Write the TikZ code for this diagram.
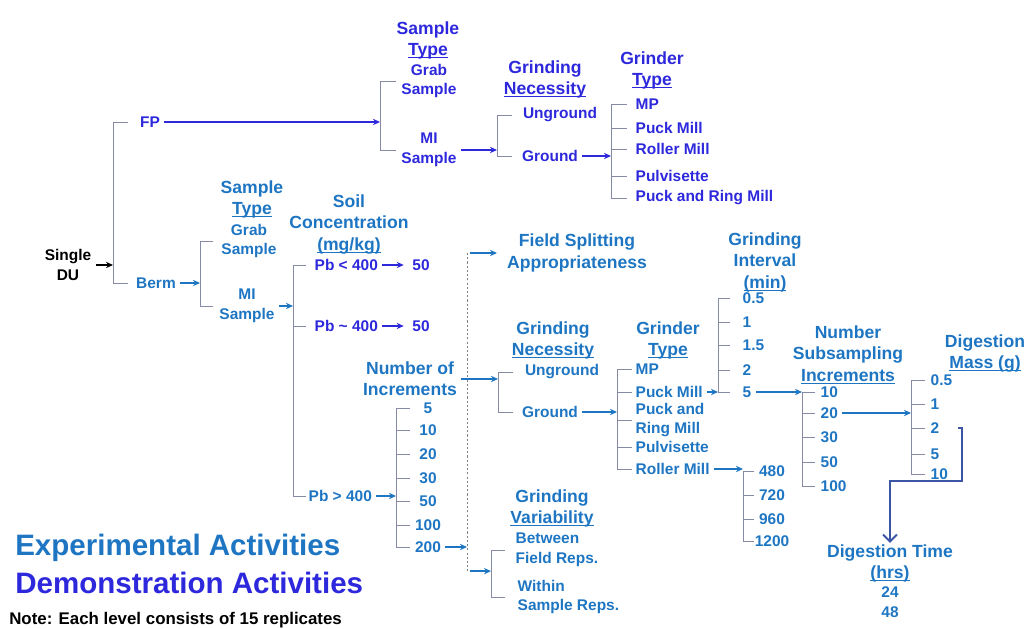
\documentclass[tikz,border=0pt]{standalone}
\usepackage{fontspec}
\setmainfont{Liberation Sans}
\usetikzlibrary{arrows.meta,calc}

\definecolor{demoblue}{RGB}{45,40,220}
\definecolor{exptblue}{RGB}{30,118,195}
\definecolor{brgray}{RGB}{135,138,165}
\definecolor{navyline}{RGB}{60,85,165}

\newcommand{\ulin}[1]{\underline{\smash{#1}}}

\tikzset{
  txt/.style={font=\bfseries\fontsize{11}{14}\selectfont, inner sep=1pt, align=center},
  hd/.style={font=\bfseries\fontsize{12.5}{15}\selectfont, inner sep=1pt, align=center},
  val/.style={txt, anchor=west},
  demo/.style={text=demoblue},
  expt/.style={text=exptblue},
  br/.style={draw=brgray, line width=0.7pt},
  arr/.style={-{Stealth[length=5pt,width=4.5pt]}, line width=1.4pt, shorten <=2pt},
  dotline/.style={draw=gray, line width=0.6pt, dash pattern=on 1.5pt off 1.5pt},
}

\begin{document}
\begin{tikzpicture}[x=0.025cm,y=-0.025cm]
\useasboundingbox (0,0) rectangle (1028,629);

% root
\node[txt] (du) at (68,265) {Single\\DU};
\node[txt,demo] (fp) at (150,122) {FP};
\node[txt,expt] (berm) at (156,283) {Berm};
\coordinate (sp0) at (113,0);
\draw[arr,black] (du.east) -- (du.east -| sp0);
\draw[br] (sp0 |- fp) ++(15,0) -- (sp0 |- fp) -- (sp0 |- berm) -- ++(15,0);

% FP: sample type
\node[hd,demo] (stA) at (428,40) {Sample\\\ulin{Type}};
\node[txt,demo] (grabA) at (429,81) {Grab\\Sample};
\node[txt,demo] (miA) at (429,150) {MI\\Sample};
\coordinate (sp1) at (380,0);
\draw[arr,demoblue,line width=1.8pt] (fp.east) -- (fp.east -| sp1);
\draw[br] (sp1 |- grabA) ++(16,0) -- (sp1 |- grabA) -- (sp1 |- miA) -- ++(16,0);

% FP: grinding necessity
\node[hd,demo] (gnA) at (545,79) {Grinding\\\ulin{Necessity}};
\node[txt,demo] (ungA) at (560,115) {Unground};
\node[txt,demo] (grA) at (550,156) {Ground};
\coordinate (sp2) at (497,0);
\draw[arr,demoblue] (miA.east) -- (miA.east -| sp2);
\draw[br] (sp2 |- ungA) ++(15,0) -- (sp2 |- ungA) -- (sp2 |- grA) -- ++(15,0);

% FP: grinder type
\node[hd,demo] (gtA) at (652,70) {Grinder\\\ulin{Type}};
\foreach \n/\y/\t in {mpA/104/MP, puckA/128/Puck Mill, rollA/149/Roller Mill,
    pulvA/176/Pulvisette, prA/198/Puck and Ring Mill}
  \node[val,demo] (\n) at (634,\y) {\t};
\coordinate (sp3) at (611,0);
\draw[arr,demoblue] (grA.east) -- (grA.east -| sp3);
\draw[br] (sp3 |- mpA) -- (sp3 |- prA);
\foreach \n in {mpA,puckA,rollA,pulvA,prA}
  \draw[br] (sp3 |- \n) -- ++(16,0);

% Berm: sample type
\node[hd,expt] (stB) at (252,199) {Sample\\\ulin{Type}};
\node[txt,expt] (grabB) at (249,241) {Grab\\Sample};
\node[txt,expt] (miB) at (247,306) {MI\\Sample};
\coordinate (sp4) at (200,0);
\draw[arr,exptblue] (berm.east) -- (berm.east -| sp4);
\draw[br] (sp4 |- grabB) ++(13,0) -- (sp4 |- grabB) -- (sp4 |- miB) -- ++(13,0);

% Berm: soil concentration
\node[hd,expt] (sc) at (349,224) {Soil\\Concentration\\\ulin{(mg/kg)}};
\node[val,demo] (pblt) at (313,265) {Pb < 400};
\node[val,demo] (pbsim) at (313,326) {Pb \textasciitilde{} 400};
\node[val,expt] (pbgt) at (307,496) {Pb > 400};
\node[txt,demo] (fiftyA) at (421,265) {50};
\node[txt,demo] (fiftyB) at (421,326) {50};
\coordinate (sp5) at (293,0);
\draw[arr,exptblue] (miB.east) -- (miB.east -| sp5);
\draw[br] (sp5 |- pblt) -- (sp5 |- pbgt);
\foreach \n in {pblt,pbsim,pbgt}
  \draw[br] (sp5 |- \n) -- ++(13,0);
\draw[arr,demoblue,shorten >=5pt] (pblt.east) -- (fiftyA.west);
\draw[arr,demoblue,shorten >=5pt] (pbsim.east) -- (fiftyB.west);

% number of increments
\node[hd,expt] (noi) at (410,379) {Number of\\Increments};
\foreach \v/\y in {5/408,10/430,20/454,30/478,50/501,100/525,200/547}
  \node[txt,expt] (inc\v) at (428,\y) {\v};
\coordinate (sp6) at (396,0);
\draw[arr,exptblue] (pbgt.east) -- (pbgt.east -| sp6);
\draw[br] (sp6 |- inc5) -- (sp6 |- inc200);
\foreach \v in {5,10,20,30,50,100,200}
  \draw[br] (sp6 |- inc\v) -- ++(14,0);

% field splitting / grinding variability
\coordinate (dl) at (467,0);
\node[hd,expt] (fsa) at (577,253) {Field Splitting\\Appropriateness};
\node[hd,expt] (gvar) at (552,508) {Grinding\\\ulin{Variability}};
\node[val,expt,align=left] (betw) at (514,550) {Between\\Field Reps.};
\node[val,expt,align=left] (within) at (516,597) {Within\\Sample Reps.};
\coordinate (sp7) at (491,0);
\coordinate (gvin) at ($(sp7 |- betw)!0.45!(sp7 |- within)$);
\draw[br] (sp7 |- betw) ++(14,0) -- (sp7 |- betw) -- (sp7 |- within) -- ++(14,0);
\draw[dotline] (dl |- fsa) -- (dl |- gvin);
\draw[arr,exptblue,shorten >=6pt] (dl |- fsa) -- (fsa.west);
\draw[arr,exptblue] (dl |- gvin) -- (gvin);
\draw[arr,exptblue] (inc200.east) -- (inc200.east -| dl);

% Berm: grinding necessity
\node[hd,expt] (gnB) at (553,340) {Grinding\\\ulin{Necessity}};
\node[txt,expt] (ungB) at (562,372) {Unground};
\node[txt,expt] (grB) at (550,412) {Ground};
\coordinate (sp8) at (498,0);
\draw[arr,exptblue] (noi.east) -- (noi.east -| sp8);
\draw[br] (sp8 |- ungB) ++(15,0) -- (sp8 |- ungB) -- (sp8 |- grB) -- ++(15,0);

% Berm: grinder type
\node[hd,expt] (gtB) at (668,340) {Grinder\\\ulin{Type}};
\node[val,expt] (mpB) at (634,369) {MP};
\node[val,expt] (puckB) at (634,392) {Puck Mill};
\node[val,expt,align=left] (prB) at (634,420) {Puck and\\Ring Mill};
\node[val,expt] (pulvB) at (634,447) {Pulvisette};
\node[val,expt] (rollB) at (634,469) {Roller Mill};
\coordinate (sp9) at (617,0);
\draw[arr,exptblue] (grB.east) -- (grB.east -| sp9);
\draw[br] (sp9 |- mpB) -- (sp9 |- rollB);
\foreach \n in {mpB,puckB,prB,pulvB,rollB}
  \draw[br] (sp9 |- \n) -- ++(15,0);

% grinding interval
\node[hd,expt] (gi) at (765,262) {Grinding\\Interval\\\ulin{(min)}};
\foreach \n/\y/\t in {gi1/298/0.5, gi2/322/1, gi3/345/1.5, gi4/370/2, gi5/392/5}
  \node[val,expt] (\n) at (741,\y) {\t};
\coordinate (sp10) at (718,0);
\draw[arr,exptblue] (puckB.east) -- (puckB.east -| sp10);
\draw[br] (sp10 |- gi1) -- (sp10 |- gi5);
\foreach \n in {gi1,gi2,gi3,gi4,gi5}
  \draw[br] (sp10 |- \n) -- ++(12,0);

% roller mill interval
\foreach \v/\y in {480/471,720/495,960/519,1200/541}
  \node[txt,expt] (rm\v) at (772,\y) {\v};
\coordinate (sp11) at (743,0);
\draw[arr,exptblue] (rollB.east) -- (rollB.east -| sp11);
\draw[br] (sp11 |- rm480) -- (sp11 |- rm1200);
\foreach \v in {480,720,960,1200}
  \draw[br] (sp11 |- rm\v) -- ++(11,0);

% subsampling increments
\node[hd,expt] (nsi) at (848,355) {Number\\Subsampling\\\ulin{Increments}};
\foreach \v/\y in {10/392,20/413,30/437,50/462,100/486}
  \node[val,expt] (ss\v) at (819,\y) {\v};
\coordinate (sp12) at (802,0);
\draw[arr,exptblue] (gi5.east) -- (gi5.east -| sp12);
\draw[br] (sp12 |- ss10) -- (sp12 |- ss100);
\foreach \v in {10,20,30,50,100}
  \draw[br] (sp12 |- ss\v) -- ++(13,0);

% digestion mass
\node[hd,expt] (dm) at (985,353) {Digestion\\\ulin{Mass (g)}};
\foreach \n/\y/\t in {dm1/380/0.5, dm2/404/1, dm3/428/2, dm4/454/5, dm5/474/10}
  \node[val,expt] (\n) at (929,\y) {\t};
\coordinate (sp13) at (911,0);
\draw[arr,exptblue] (ss20.east) -- (ss20.east -| sp13);
\draw[br] (sp13 |- dm1) -- (sp13 |- dm5);
\foreach \n in {dm1,dm2,dm3,dm4,dm5}
  \draw[br] (sp13 |- \n) -- ++(14,0);

% digestion time
\node[hd,expt] (dthd) at (890,563) {Digestion Time\\\ulin{(hrs)}};
\node[txt,expt] (dtv) at (890,602) {24\\48};
\coordinate (jn) at (962,481);
\draw[draw=navyline, line width=1.4pt, shorten <=12pt, -{Straight Barb[length=5pt,width=10pt]}]
  (dm3.east) -| (jn) -- (jn -| dthd) -- (dthd.north);

% legend
\node[anchor=west, inner sep=0pt, font=\bfseries\fontsize{21}{24}\selectfont, text=exptblue] (legx) at (15,548) {Experimental Activities};
\node[anchor=west, inner sep=0pt, font=\bfseries\fontsize{21}{24}\selectfont, text=demoblue] (legd) at (15,583) {Demonstration Activities};
\node[anchor=west, inner sep=0pt, font=\bfseries\fontsize{12}{14}\selectfont] (note) at (9,620) {Note: Each level consists of 15 replicates};
\end{tikzpicture}
\end{document}
